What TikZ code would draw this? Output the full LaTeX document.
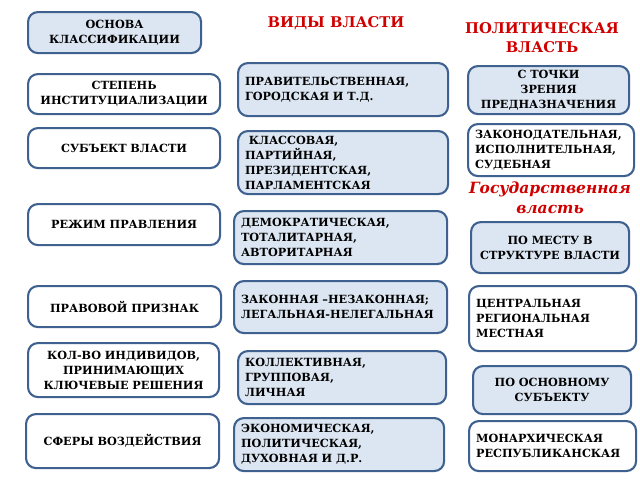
\documentclass[tikz,border=0pt]{standalone}
\usepackage{fontspec}
\setmainfont{DejaVu Serif}
\usetikzlibrary{calc}

\definecolor{bordo}{HTML}{3F6190}
\definecolor{celeste}{HTML}{DCE6F2}
\definecolor{rosso}{HTML}{D00000}

\begin{document}
\begin{tikzpicture}[x = 0.025cm, y = -0.025cm,
  box/.style = {draw = bordo, line width = 1.5pt, rounded corners = 7pt,
    anchor = north west, inner xsep = 5pt, inner ysep = 1pt,
    font = \fontsize{8}{10.6}\selectfont\bfseries},
  piena/.style = {box, fill = celeste},
  vuota/.style = {box, fill = white},
  titolo/.style = {text = rosso, align = center,
    font = \fontsize{10.5}{13.5}\selectfont\bfseries}]
  % Area del disegno
  \useasboundingbox (0,0) rectangle (640,480);

  % Colonna sinistra: base della classificazione
  \node[piena, align = center, text width = 4.325cm - 10pt, minimum height = 1.025cm] (osnova) at (27,11) {ОСНОВА\\КЛАССИФИКАЦИИ};
  \node[vuota, align = center, text width = 4.8cm - 10pt, minimum height = 1cm] (stepen) at (27,73) {СТЕПЕНЬ\\ИНСТИТУЦИАЛИЗАЦИИ};
  \node[vuota, align = center, text width = 4.8cm - 10pt, minimum height = 1cm] (subekt) at (27,127) {СУБЪЕКТ ВЛАСТИ};
  \node[vuota, align = center, text width = 4.8cm - 10pt, minimum height = 1.025cm] (rezhim) at (27,203) {РЕЖИМ ПРАВЛЕНИЯ};
  \node[vuota, align = center, text width = 4.825cm - 10pt, minimum height = 1.025cm] (pravo) at (27,285) {ПРАВОВОЙ ПРИЗНАК};
  \node[vuota, align = center, text width = 4.775cm - 10pt, minimum height = 1.35cm] (kolvo) at (27,342) {КОЛ-ВО ИНДИВИДОВ,\\ПРИНИМАЮЩИХ\\КЛЮЧЕВЫЕ РЕШЕНИЯ};
  \node[vuota, align = center, text width = 4.825cm - 10pt, minimum height = 1.35cm] (sfery) at (25,413) {СФЕРЫ ВОЗДЕЙСТВИЯ};

  % Colonna centrale: tipi di potere
  \node[titolo] (vidy) at (336,23) {ВИДЫ ВЛАСТИ};
  \node[piena, align = left, text width = 5.25cm - 10pt, minimum height = 1.325cm] (vid1) at (237,62) {ПРАВИТЕЛЬСТВЕННАЯ,\\ГОРОДСКАЯ И Т.Д.};
  \node[piena, align = left, text width = 5.25cm - 10pt, minimum height = 1.575cm] (vid2) at (237,130) {\ КЛАССОВАЯ,\\ПАРТИЙНАЯ,\\ПРЕЗИДЕНТСКАЯ,\\ПАРЛАМЕНТСКАЯ};
  \node[piena, align = left, text width = 5.325cm - 10pt, minimum height = 1.325cm] (vid3) at (233,210) {ДЕМОКРАТИЧЕСКАЯ,\\ТОТАЛИТАРНАЯ,\\АВТОРИТАРНАЯ};
  \node[piena, align = left, text width = 5.325cm - 10pt, minimum height = 1.3cm] (vid4) at (233,280) {ЗАКОННАЯ –НЕЗАКОННАЯ;\\ЛЕГАЛЬНАЯ-НЕЛЕГАЛЬНАЯ};
  \node[piena, align = left, text width = 5.2cm - 10pt, minimum height = 1.325cm] (vid5) at (237,350) {КОЛЛЕКТИВНАЯ,\\ГРУППОВАЯ,\\ЛИЧНАЯ};
  \node[piena, align = left, text width = 5.25cm - 10pt, minimum height = 1.325cm] (vid6) at (233,417) {ЭКОНОМИЧЕСКАЯ,\\ПОЛИТИЧЕСКАЯ,\\ДУХОВНАЯ И Д.Р.};

  % Colonna destra: potere politico
  \node[titolo] (polit) at (542,38) {ПОЛИТИЧЕСКАЯ\\ВЛАСТЬ};
  \node[piena, align = center, text width = 4.025cm - 10pt, minimum height = 1.2cm] (pol1) at (467,65) {С ТОЧКИ\\ЗРЕНИЯ\\ПРЕДНАЗНАЧЕНИЯ};
  \node[vuota, align = left, text width = 4.15cm - 10pt, minimum height = 1.3cm] (pol2) at (467,123) {ЗАКОНОДАТЕЛЬНАЯ,\\ИСПОЛНИТЕЛЬНАЯ,\\СУДЕБНАЯ};
  \node[titolo, font = \fontsize{11}{14.5}\selectfont\bfseries\itshape] (gosud) at (550,198) {Государственная\\власть};
  \node[piena, align = center, text width = 3.95cm - 10pt, minimum height = 1.275cm] (pol3) at (470,221) {ПО МЕСТУ В\\СТРУКТУРЕ ВЛАСТИ};
  \node[vuota, align = left, text width = 4.175cm - 10pt, minimum height = 1.625cm] (pol4) at (468,285) {ЦЕНТРАЛЬНАЯ\\РЕГИОНАЛЬНАЯ\\МЕСТНАЯ};
  \node[piena, align = center, text width = 3.95cm - 10pt, minimum height = 1.2cm] (pol5) at (472,365) {ПО ОСНОВНОМУ\\СУБЪЕКТУ};
  \node[vuota, align = left, text width = 4.175cm - 10pt, minimum height = 1.25cm] (pol6) at (468,420) {МОНАРХИЧЕСКАЯ\\РЕСПУБЛИКАНСКАЯ};
\end{tikzpicture}
\end{document}
